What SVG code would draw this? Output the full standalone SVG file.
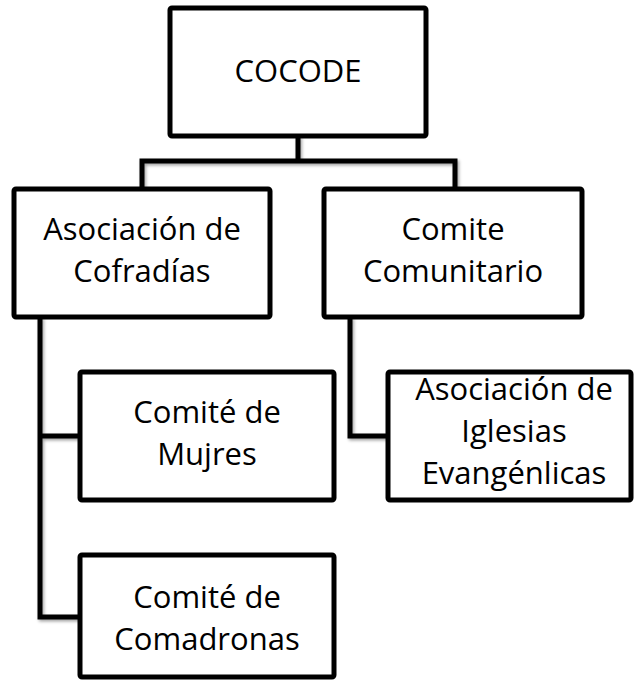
<svg xmlns="http://www.w3.org/2000/svg" width="634" height="680" viewBox="0 0 634 680">
<style>
.box{fill:#fff;stroke:#000;stroke-width:5}
.conn{fill:none;stroke:#000;stroke-width:5;stroke-linejoin:miter}
text{font-family:"Open Sans","Noto Sans","Liberation Sans",sans-serif;font-size:31px;fill:#000;text-anchor:middle}
</style>
<defs>
<filter id="sh" x="-10%" y="-10%" width="130%" height="130%">
<feDropShadow dx="1.5" dy="2" stdDeviation="1.5" flood-color="#000" flood-opacity="0.35"/>
</filter>
</defs>
<rect width="634" height="680" fill="#fff"/>
<g id="connectors" filter="url(#sh)">
<path class="conn" d="M298,136 V161 M142,189 V161 H455 V189"/>
<path class="conn" d="M40,317 V617 H80 M40,436 H80"/>
<path class="conn" d="M350,317 V436 H388"/>
</g>
<g id="cocode">
<rect class="box" x="170" y="8" width="256" height="128" rx="2"/>
<text x="298" y="82">COCODE</text>
</g>
<g id="cofradias">
<rect class="box" x="14" y="189" width="256" height="128" rx="2"/>
<text x="142" y="240">Asociación de</text>
<text x="142" y="282">Cofradías</text>
</g>
<g id="comunitario">
<rect class="box" x="324" y="189" width="258" height="128" rx="2"/>
<text x="453" y="240">Comite</text>
<text x="453" y="282">Comunitario</text>
</g>
<g id="mujeres">
<rect class="box" x="80" y="372" width="254" height="128" rx="2"/>
<text x="207" y="423">Comité de</text>
<text x="207" y="465">Mujres</text>
</g>
<g id="iglesias">
<rect class="box" x="388" y="372" width="243" height="128" rx="2"/>
<text x="514" y="400">Asociación de</text>
<text x="514" y="442">Iglesias</text>
<text x="514" y="484">Evangénlicas</text>
</g>
<g id="comadronas">
<rect class="box" x="80" y="555" width="254" height="122" rx="2"/>
<text x="207" y="608">Comité de</text>
<text x="207" y="650">Comadronas</text>
</g>
</svg>
